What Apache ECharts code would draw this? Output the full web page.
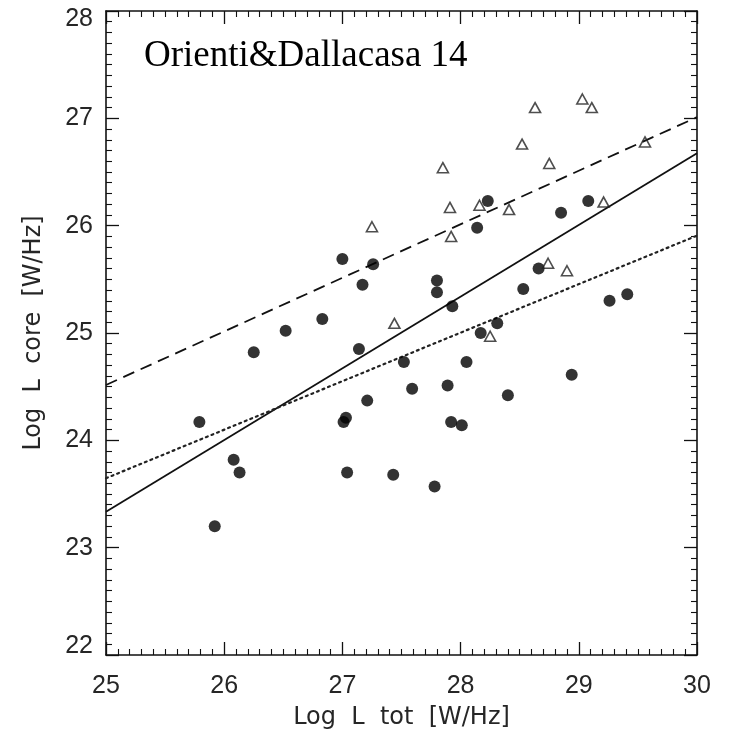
<!DOCTYPE html>
<html>
<head>
<meta charset="utf-8">
<script src="https://cdn.jsdelivr.net/npm/echarts@6/dist/echarts.min.js"></script>
<style>
  html, body { margin: 0; padding: 0; background: #fff; }
  #chart { width: 729px; height: 730px; }
</style>
</head>
<body>
<div id="chart"></div>
<script>
// Total vs core radio luminosity (log W/Hz)
const xTicks = [25, 26, 27, 28, 29, 30];
const yTicks = [22, 23, 24, 25, 26, 27, 28];

// Filled circles: [log L tot, log L core]
const circleTot = [25.79, 26.08, 26.13, 25.92, 26.25, 26.52, 26.83, 27.00, 27.14, 27.17,
  27.26, 27.03, 27.01, 27.04, 27.21, 27.52, 27.59, 27.43, 27.78, 27.80,
  27.80, 27.93, 27.89, 28.05, 27.92, 28.01, 28.17, 28.31, 28.40, 28.53,
  28.66, 28.94, 29.26, 29.41, 28.14, 28.23, 28.85, 29.08];
const circleCore = [24.17, 23.82, 23.70, 23.20, 24.82, 25.02, 25.13, 25.69, 24.85, 25.45,
  25.64, 24.21, 24.17, 23.70, 24.37, 24.73, 24.48, 23.68, 23.57, 25.49,
  25.38, 25.25, 24.51, 24.73, 24.17, 24.14, 25.00, 25.09, 24.42, 25.41,
  25.60, 24.61, 25.30, 25.36, 25.98, 26.23, 26.12, 26.23];

// Open triangles
const triTot = [27.25, 27.44, 27.85, 27.91, 27.92, 28.16, 28.41, 28.25, 28.52, 28.63,
  28.75, 28.74, 28.90, 29.03, 29.11, 29.21, 29.56];
const triCore = [25.99, 25.09, 26.54, 26.17, 25.90, 26.19, 26.15, 24.97, 26.76, 27.10,
  26.58, 25.65, 25.58, 27.18, 27.10, 26.22, 26.78];

// Linear fits: core = intercept + slope * (tot - 25)
const fitNames = ['solid', 'dashed', 'dotted'];
const fitIntercept = [23.335, 24.516, 23.647];
const fitSlope = [0.668, 0.499, 0.452];

const X0 = xTicks[0], X1 = xTicks[xTicks.length - 1];
const Y0 = yTicks[0], Y1 = yTicks[yTicks.length - 1];
const zip = (a, b) => a.map((v, i) => [v, b[i]]);
const fitLine = i => [[X0, fitIntercept[i]], [X1, fitIntercept[i] + fitSlope[i] * (X1 - X0)]];

const tickFont = { fontFamily: 'Liberation Sans', fontSize: 25, color: '#262626' };
const nameFont = { fontFamily: 'DejaVu Sans', fontSize: 24, color: '#262626' };
const frame = { show: true, onZero: false, lineStyle: { color: '#111', width: 1.6 } };
const tick = { show: true, inside: true, length: 13, lineStyle: { color: '#111', width: 1.3 } };
const minor = { show: true, splitNumber: 10, length: 6, lineStyle: { color: '#111', width: 1.1 } };

function xAxis(pos, labels) {
  return {
    type: 'value', position: pos, min: X0, max: X1, interval: 1,
    axisLine: frame, axisTick: tick, minorTick: minor, splitLine: { show: false },
    axisLabel: Object.assign({ show: labels, margin: 19 }, tickFont),
    name: labels ? 'Log  L  tot  [W/Hz]' : '', nameLocation: 'middle', nameGap: 51,
    nameTextStyle: nameFont
  };
}
function yAxis(pos, labels) {
  // end labels sit inside the frame height
  const rich = {
    hi: Object.assign({ padding: [16, 0, 0, 0] }, tickFont),
    lo: Object.assign({ padding: [0, 0, 18, 0] }, tickFont)
  };
  return {
    type: 'value', position: pos, min: Y0, max: Y1, interval: 1,
    axisLine: frame, axisTick: tick, minorTick: minor, splitLine: { show: false },
    axisLabel: Object.assign({
      show: labels, margin: 13, rich,
      formatter: v => v === Y1 ? '{hi|' + v + '}' : v === Y0 ? '{lo|' + v + '}' : String(v)
    }, tickFont),
    name: labels ? 'Log  L  core  [W/Hz]' : '', nameLocation: 'middle', nameGap: 60,
    nameTextStyle: nameFont
  };
}

const lineStyles = [
  { color: '#111', width: 1.8, type: 'solid' },
  { color: '#111', width: 1.8, type: [12, 7] },
  { color: '#222', width: 2.2, type: [2, 4], cap: 'round' }
];

const chart = echarts.init(document.getElementById('chart'), null, { renderer: 'canvas' });
chart.setOption({
  animation: false,
  backgroundColor: '#fff',
  title: {
    text: 'Orienti&Dallacasa 14', left: 139, top: 33,
    textStyle: { fontFamily: 'Liberation Serif', fontSize: 37, fontWeight: 'normal', color: '#000' }
  },
  grid: { left: 106, right: 32, top: 11, bottom: 75, containLabel: false, outerBoundsMode: 'none' },
  xAxis: [xAxis('bottom', true), xAxis('top', false)],
  yAxis: [yAxis('left', true), yAxis('right', false)],
  series: [
    ...fitNames.map((n, i) => ({
      name: n, type: 'line', xAxisIndex: 0, yAxisIndex: 0,
      data: fitLine(i), showSymbol: false, lineStyle: lineStyles[i], z: 2
    })),
    {
      name: 'circles', type: 'scatter', data: zip(circleTot, circleCore),
      symbol: 'circle', symbolSize: 12, itemStyle: { color: '#000' }, z: 3
    },
    {
      name: 'triangles', type: 'scatter', data: zip(triTot, triCore),
      symbol: 'triangle', symbolSize: [11, 10],
      itemStyle: { color: 'rgba(255,255,255,0)', borderColor: '#222', borderWidth: 1.6 }, z: 3
    }
  ]
});
</script>
</body>
</html>
